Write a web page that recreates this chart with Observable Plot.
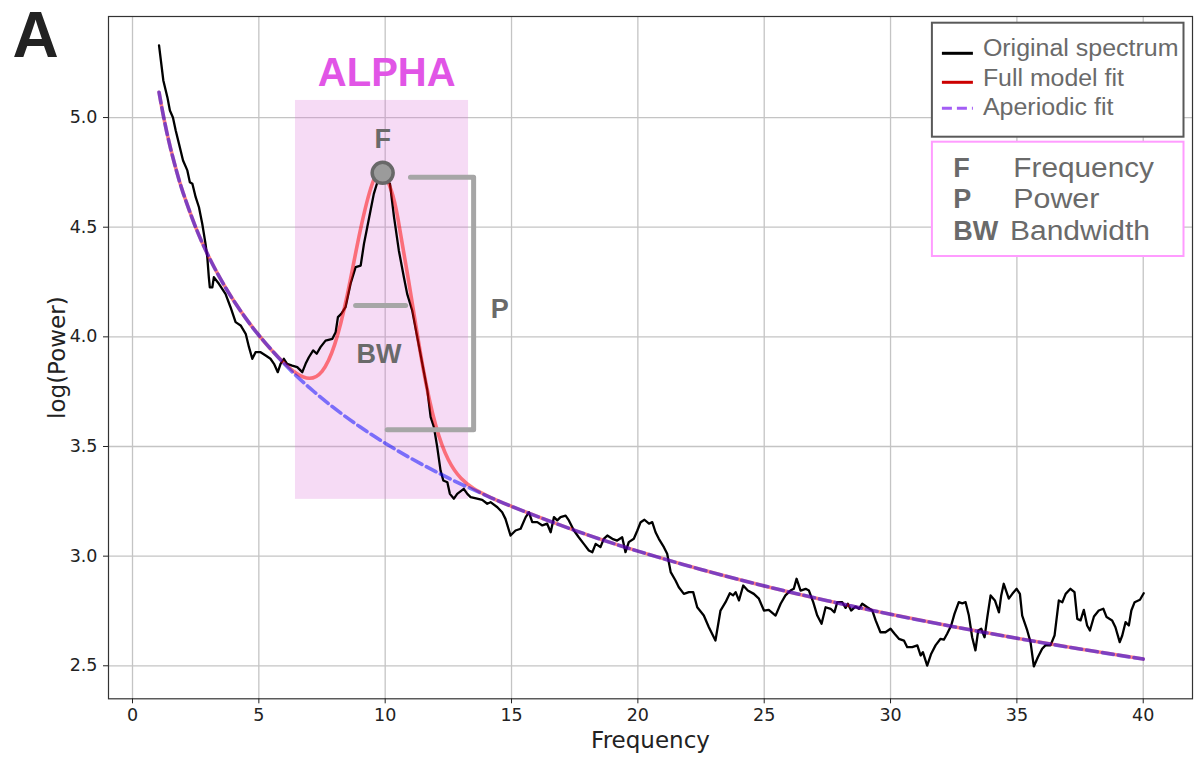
<!DOCTYPE html>
<html>
<head>
<meta charset="utf-8">
<script src="https://cdn.jsdelivr.net/npm/d3@7"></script>
<script src="https://cdn.jsdelivr.net/npm/@observablehq/plot@0.6"></script>
<style>
  html, body { margin: 0; padding: 0; background: #fff; }
  #chart svg { display: block; }
</style>
</head>
<body>
<div id="chart"></div>
<script>
// ---------- Data ----------
const spectrumFreqs = [
  1.05,1.22,1.38,1.48,1.60,1.71,1.84,2.00,2.17,2.27,2.37,2.50,2.63,2.76,2.89,2.96,3.02,3.06,3.16,3.22,
  3.42,3.68,3.88,4.08,4.28,4.48,4.61,4.74,4.87,5.07,5.27,5.46,5.60,5.75,5.86,5.99,6.12,6.32,6.52,6.72,
  6.85,6.98,7.15,7.29,7.44,7.64,7.91,8.04,8.13,8.26,8.43,8.63,8.83,9.03,9.16,9.29,9.42,9.55,9.69,9.88,
  10.19,10.35,10.54,10.74,10.87,11.07,11.27,11.47,11.67,11.80,11.93,12.06,12.19,12.30,12.46,12.56,12.72,12.85,13.11,13.25,
  13.38,13.64,13.84,14.04,14.17,14.44,14.63,14.76,14.96,15.16,15.36,15.56,15.69,15.82,16.02,16.22,16.41,16.55,16.68,16.81,
  16.94,17.14,17.27,17.47,17.66,17.86,18.06,18.20,18.33,18.52,18.65,18.79,18.99,19.18,19.38,19.51,19.64,19.84,19.98,20.11,
  20.26,20.44,20.57,20.70,20.83,21.03,21.16,21.30,21.49,21.62,21.82,22.02,22.19,22.35,22.61,22.81,23.07,23.27,23.47,23.64,
  23.77,23.87,24.00,24.17,24.35,24.59,24.79,24.99,25.18,25.45,25.65,25.84,26.04,26.17,26.28,26.44,26.64,26.77,26.94,27.10,
  27.27,27.43,27.63,27.78,27.89,28.09,28.22,28.31,28.44,28.61,28.75,28.88,29.08,29.28,29.41,29.60,29.80,30.00,30.16,30.33,
  30.53,30.66,30.86,31.06,31.19,31.28,31.45,31.61,31.78,31.98,32.11,32.24,32.40,32.53,32.70,32.84,32.97,33.10,33.23,33.36,
  33.47,33.59,33.72,33.83,33.96,34.13,34.29,34.38,34.48,34.68,34.82,34.99,35.12,35.21,35.41,35.54,35.67,35.83,36.00,36.13,
  36.33,36.49,36.66,36.80,36.93,37.12,37.28,37.39,37.52,37.65,37.78,37.89,38.05,38.24,38.42,38.55,38.77,38.90,39.07,39.17,
  39.30,39.43,39.53,39.66,39.87,40.02
];
const spectrumPower = [
  5.329,5.169,5.093,5.032,5.000,4.941,4.880,4.804,4.759,4.705,4.698,4.637,4.591,4.516,4.424,4.363,4.272,4.226,4.226,4.272,
  4.242,4.196,4.135,4.067,4.052,4.014,3.953,3.900,3.930,3.930,3.915,3.900,3.877,3.839,3.877,3.900,3.877,3.869,3.862,3.839,
  3.877,3.907,3.938,3.923,3.953,3.983,3.991,4.021,4.090,4.105,4.135,4.242,4.318,4.325,4.424,4.500,4.576,4.652,4.705,4.736,
  4.698,4.546,4.394,4.272,4.196,4.120,3.998,3.877,3.755,3.634,3.588,3.497,3.391,3.345,3.337,3.284,3.262,3.284,3.307,3.284,
  3.269,3.262,3.257,3.239,3.246,3.223,3.200,3.170,3.094,3.117,3.125,3.178,3.200,3.155,3.155,3.140,3.148,3.109,3.178,3.163,
  3.178,3.185,3.163,3.117,3.086,3.056,3.026,3.018,3.056,3.041,3.079,3.094,3.079,3.071,3.086,3.018,3.064,3.079,3.117,3.155,
  3.166,3.148,3.155,3.109,3.079,3.041,3.011,2.927,2.889,2.858,2.828,2.836,2.836,2.767,2.729,2.676,2.615,2.752,2.790,2.831,
  2.821,2.836,2.798,2.866,2.843,2.828,2.806,2.752,2.755,2.729,2.783,2.821,2.843,2.851,2.897,2.843,2.851,2.843,2.790,2.729,
  2.692,2.767,2.760,2.744,2.790,2.790,2.764,2.783,2.752,2.770,2.760,2.783,2.767,2.752,2.707,2.653,2.653,2.669,2.646,2.623,
  2.615,2.585,2.585,2.593,2.547,2.562,2.501,2.555,2.593,2.623,2.619,2.646,2.684,2.737,2.790,2.785,2.790,2.729,2.630,2.570,
  2.661,2.669,2.630,2.722,2.821,2.798,2.744,2.821,2.874,2.806,2.828,2.851,2.828,2.729,2.661,2.608,2.497,2.539,2.578,2.593,
  2.593,2.638,2.798,2.790,2.828,2.851,2.836,2.714,2.707,2.755,2.684,2.661,2.725,2.752,2.760,2.722,2.707,2.676,2.608,2.638,
  2.699,2.684,2.752,2.790,2.801,2.831
];

const fullModelFreqs = [1.05,1.25,1.5,1.75,2,2.5,3,3.5,4,4.5,5,5.5,6,6.5,7,7.5,8,8.5,9,9.5,9.9,10.25,10.5,11,11.5,12,12.5,13,13.5,14,15,17.5,20,22.5,25,27.5,30,32.5,35,37.5,40];
const fullModelPower = [5.1154,4.9916,4.8621,4.7526,4.6578,4.4994,4.3699,4.2605,4.1656,4.0820,4.0073,3.9400,3.8806,3.8331,3.8112,3.8428,3.9643,4.1918,4.4775,4.7016,4.7481,4.6650,4.5425,4.2042,3.8577,3.5969,3.4395,3.3553,3.3089,3.2776,3.2271,3.1176,3.0228,2.9392,2.8644,2.7967,2.7349,2.6781,2.6255,2.5765,2.5306];

const aperiodicFreqs = [1.05,1.25,1.5,1.75,2,2.5,3,3.5,4,4.5,5,6,7,8,9,10,11,12,13,14,15,17.5,20,22.5,25,27.5,30,32.5,35,37.5,40];
const aperiodicPower = [5.1154,4.9916,4.8621,4.7526,4.6578,4.4994,4.3699,4.2605,4.1656,4.0820,4.0072,3.8777,3.7683,3.6735,3.5898,3.5150,3.4473,3.3855,3.3287,3.2761,3.2271,3.1176,3.0228,2.9392,2.8644,2.7967,2.7349,2.6781,2.6255,2.5765,2.5306];

const xTicks = [0, 5, 10, 15, 20, 25, 30, 35, 40];
const yTicks = [2.5, 3.0, 3.5, 4.0, 4.5, 5.0];

// Annotations (data units)
const alphaBandFreqs = [6.45, 13.3];
const alphaBandPower = [3.259, 5.078];
const peakFreq = [9.9];
const peakPower = [4.748];
const pBracketFreqs = [11.0, 13.5, 13.5, 10.08];
const pBracketPower = [4.728, 4.728, 3.576, 3.576];
const bwFreqs = [8.83, 10.81];
const bwPower = [4.143, 4.143];
const bandLabel = ["ALPHA"];
const bandLabelFreq = [10.06];
const bandLabelPower = [5.203];
const paramLabels = ["F", "P", "BW"];
const paramLabelFreqs = [9.9, 14.53, 9.75];
const paramLabelPower = [4.90, 4.125, 3.92];

// Legends
const legendLabels = ["Original spectrum", "Full model fit", "Aperiodic fit"];
const legendColors = ["#000000", "#cc0000", "#a35df5"];
const legendDashes = [null, null, "10,5"];
const keyLetters = ["F", "P", "BW"];
const keyNames = ["Frequency", "Power", "Bandwidth"];

// ---------- Legend as a custom Plot mark ----------
function legendMark(index, scales, values, dims) {
  const W = dims && dims.width ? dims.width : 1200;
  const mR = dims && dims.marginRight != null ? dims.marginRight : 8;
  const mT = dims && dims.marginTop != null ? dims.marginTop : 16;
  const right = W - mR - 8.5;
  const boxW = 251.6;
  const left = right - boxW;
  const g = d3.create("svg:g")
    .attr("font-family", "'Liberation Sans', Arial, sans-serif")
    .attr("text-anchor", "start");

  // Box 1
  const top1 = mT + 6.7;
  g.append("rect").attr("x", left).attr("y", top1).attr("width", boxW).attr("height", 114)
    .attr("fill", "white").attr("stroke", "#595959").attr("stroke-width", 2);
  const textLens1 = [195.6, 141, 130.6];
  const base1 = [40.3, 70, 99];
  const sample1 = [37.3, 66.3, 92.3];
  legendLabels.forEach((lab, i) => {
    const ln = g.append("line")
      .attr("x1", left + 10).attr("x2", left + 41)
      .attr("y1", mT + sample1[i]).attr("y2", mT + sample1[i])
      .attr("stroke", legendColors[i]).attr("stroke-width", 3);
    if (legendDashes[i]) ln.attr("stroke-dasharray", legendDashes[i]);
    g.append("text").attr("x", left + 51).attr("y", mT + base1[i])
      .attr("font-size", 23).attr("fill", "#6a6a6a")
      .attr("textLength", textLens1[i]).attr("lengthAdjust", "spacingAndGlyphs")
      .text(lab);
  });

  // Box 2
  const top2 = mT + 125.7;
  g.append("rect").attr("x", left).attr("y", top2).attr("width", boxW).attr("height", 114.3)
    .attr("fill", "white").attr("stroke", "#ff9cff").attr("stroke-width", 2);
  const base2 = [161.3, 192.3, 224];
  const nameX = [81.4, 81.4, 78.1];
  const nameLens = [140.7, 86, 140];
  keyLetters.forEach((k, i) => {
    g.append("text").attr("x", left + 21.4).attr("y", mT + base2[i])
      .attr("font-size", 27).attr("font-weight", "bold").attr("fill", "#6a6a6a").text(k);
    g.append("text").attr("x", left + nameX[i]).attr("y", mT + base2[i])
      .attr("font-size", 27).attr("fill", "#6a6a6a")
      .attr("textLength", nameLens[i]).attr("lengthAdjust", "spacingAndGlyphs")
      .text(keyNames[i]);
  });
  return g.node();
}

const boldFont = "'Liberation Sans', Arial, sans-serif";

const chart = Plot.plot({
  width: 1200,
  height: 758,
  marginTop: 16,
  marginBottom: 59.7,
  marginLeft: 108,
  marginRight: 8,
  style: { fontFamily: "'DejaVu Sans', sans-serif", fontSize: "17.5px", background: "white", color: "#222" },
  x: { domain: [-0.95, 41.95] },
  y: { domain: [2.3495, 5.4608] },
  marks: [
    Plot.gridX(xTicks, { stroke: "#c4c4c4", strokeOpacity: 1, strokeWidth: 1.3 }),
    Plot.gridY(yTicks, { stroke: "#c4c4c4", strokeOpacity: 1, strokeWidth: 1.3 }),
    Plot.rect([0], {
      x1: [alphaBandFreqs[0]], x2: [alphaBandFreqs[1]],
      y1: [alphaBandPower[0]], y2: [alphaBandPower[1]],
      fill: "orchid", fillOpacity: 0.25
    }),
    Plot.line(spectrumFreqs, { x: spectrumFreqs, y: spectrumPower, stroke: "black", strokeWidth: 2.3 }),
    Plot.line(fullModelFreqs, { x: fullModelFreqs, y: fullModelPower, stroke: "red", strokeOpacity: 0.5, strokeWidth: 3.6, curve: "natural" }),
    Plot.line(aperiodicFreqs, { x: aperiodicFreqs, y: aperiodicPower, stroke: "blue", strokeOpacity: 0.5, strokeWidth: 3.6, strokeDasharray: "11,5", curve: "natural" }),
    Plot.line(pBracketFreqs, { x: pBracketFreqs, y: pBracketPower, stroke: "#a6a6a6", strokeWidth: 5, strokeLinejoin: "round", strokeLinecap: "round" }),
    Plot.line(bwFreqs, { x: bwFreqs, y: bwPower, stroke: "#a6a6a6", strokeWidth: 5, strokeLinecap: "round" }),
    Plot.dot([0], { x: peakFreq, y: peakPower, r: 10.5, fill: "#9b9b9b", stroke: "#686868", strokeWidth: 3.5 }),
    Plot.text(bandLabel, { x: bandLabelFreq, y: bandLabelPower, text: d => d, fontSize: 40, fontWeight: "bold", fontFamily: boldFont, fill: "#e155e6" }),
    Plot.text(paramLabels, { x: paramLabelFreqs, y: paramLabelPower, text: d => d, fontSize: 27, fontWeight: "bold", fontFamily: boldFont, fill: "#6a6a6a" }),
    Plot.frame({ stroke: "#333", strokeWidth: 1.2 }),
    Plot.axisX(xTicks, { tickSize: 5, tickPadding: 5, label: null, color: "#222", fontSize: 17.5 }),
    Plot.axisY(yTicks, { tickSize: 5, tickPadding: 6, tickFormat: ".1f", label: null, color: "#222", fontSize: 17.5 }),
    Plot.text(["Frequency"], { frameAnchor: "bottom", text: d => d, dy: 42, lineAnchor: "middle", textAnchor: "middle", fontSize: 23, fill: "#222" }),
    Plot.text(["log(Power)"], { frameAnchor: "left", text: d => d, rotate: -90, dx: -51, lineAnchor: "middle", textAnchor: "middle", fontSize: 23, fill: "#222" }),
    Plot.text(["A"], { frameAnchor: "top-left", text: d => d, dx: -73, dy: 20, lineAnchor: "middle", textAnchor: "middle", fontSize: 64, fontWeight: "bold", fontFamily: boldFont, fill: "#222" }),
    legendMark
  ]
});

document.getElementById("chart").appendChild(chart);
</script>
</body>
</html>
